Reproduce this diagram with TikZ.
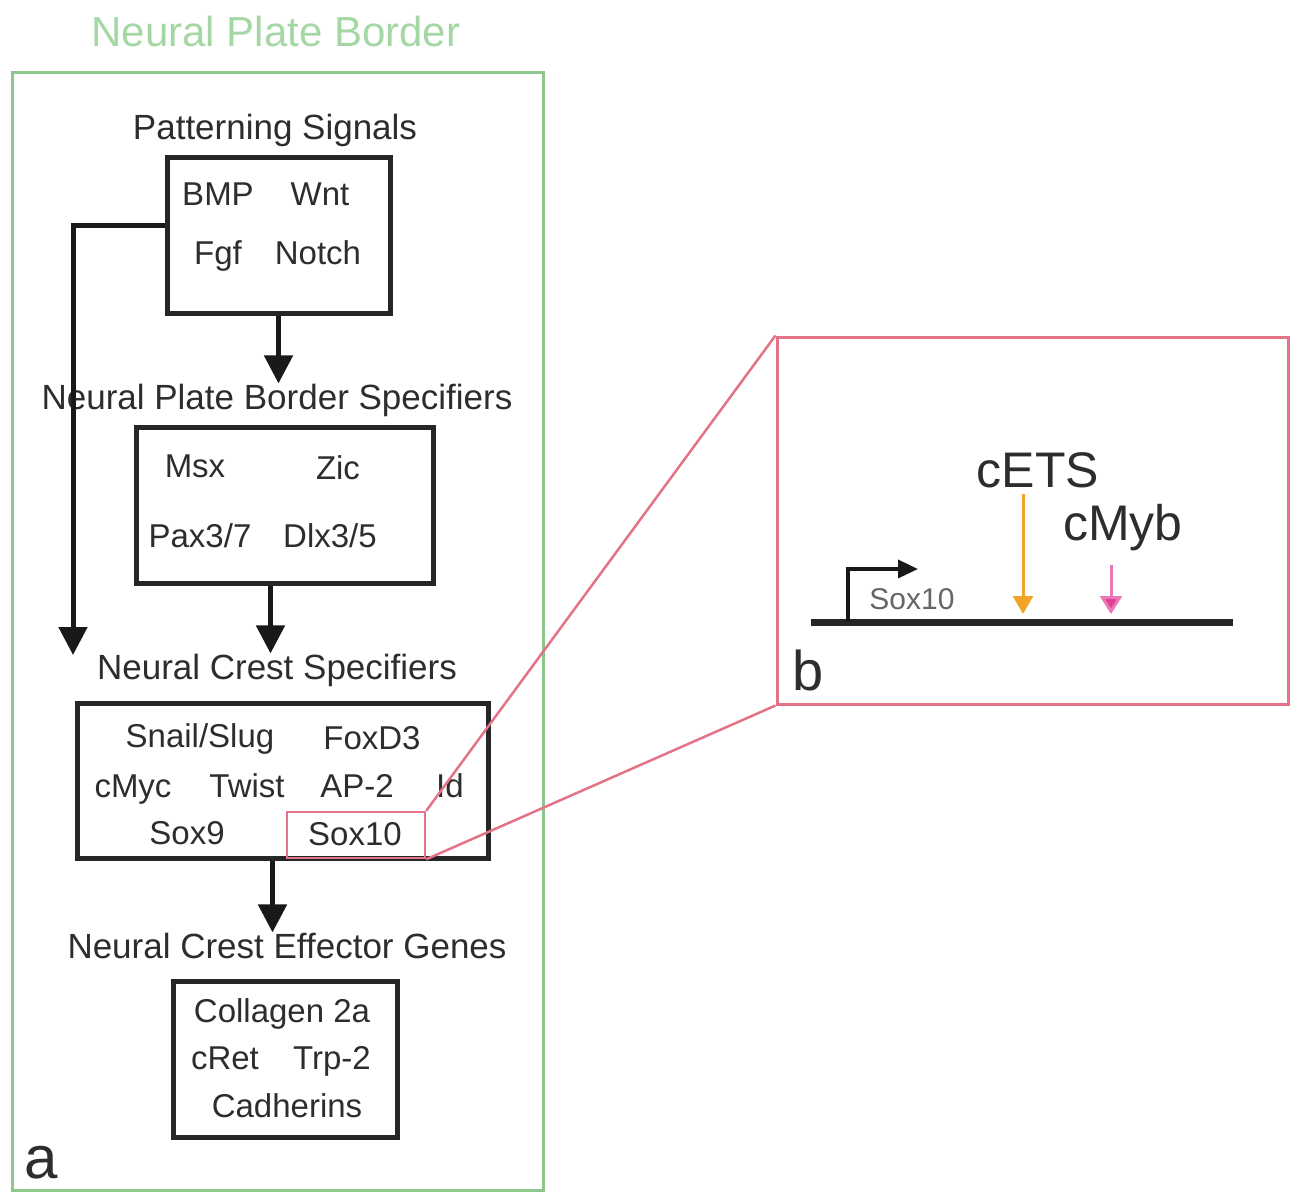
\documentclass[tikz,border=0pt]{standalone}
\usepackage{fontspec}
\setmainfont{Liberation Sans}
\usetikzlibrary{arrows.meta,calc}
\definecolor{txt}{RGB}{45,45,45}
\definecolor{grn}{RGB}{140,200,140}
\definecolor{grnt}{RGB}{165,215,165}
\definecolor{pnk}{RGB}{228,115,135}
\definecolor{orng}{RGB}{240,165,40}
\definecolor{mgnt}{RGB}{225,60,150}
\tikzset{
  blackbox/.style={draw=black!85, line width=5pt, inner sep=0pt},
  lbl/.style={font=\fontsize{35}{40}\selectfont, text=txt, inner sep=0pt, anchor=base},
  itm/.style={font=\fontsize{33}{38}\selectfont, text=txt, inner sep=0pt, anchor=base},
  arr/.style={line width=5pt, draw=black!90, -{Triangle[length=28pt,width=28pt]}},
  pinkline/.style={draw=pnk, line width=2.5pt}
}
\begin{document}
\begin{tikzpicture}[x=1pt,y=-1pt]
\useasboundingbox (0,0) rectangle (1302,1194);
% panel a
\node[draw=grn, line width=3pt, minimum width=531pt, minimum height=1118pt, inner sep=0pt] (npb) at (277.5,631) {};
\node[font=\fontsize{42}{48}\selectfont, text=grnt, inner sep=0pt, anchor=base] (title) at (276,46) {Neural Plate Border};

\node[lbl] (psl) at (275,139) {Patterning Signals};
\node[blackbox, minimum width=223pt, minimum height=156pt] (ps) at (278.5,235) {};
\node[itm] (bmp) at (218,205) {BMP};
\node[itm] (wnt) at (320,205) {Wnt};
\node[itm] (fgf) at (218,264) {Fgf};
\node[itm] (notch) at (318,264) {Notch};

\node[lbl] (npbsl) at (277,409) {Neural Plate Border Specifiers};
\node[blackbox, minimum width=297pt, minimum height=156pt] (b2) at (284.5,505) {};
\node[itm] (msx) at (195,477) {Msx};
\node[itm] (zic) at (338,479) {Zic};
\node[itm] (pax) at (200,547) {Pax3/7};
\node[itm] (dlx) at (330,547) {Dlx3/5};

\node[lbl] (ncsl) at (277,679) {Neural Crest Specifiers};
\node[blackbox, minimum width=411pt, minimum height=155pt] (b3) at (282.5,780.5) {};
\node[itm] (snail) at (200,747) {Snail/Slug};
\node[itm] (foxd3) at (372,749) {FoxD3};
\node[itm] (cmyc) at (133,797) {cMyc};
\node[itm] (twist) at (247,797) {Twist};
\node[itm] (ap2) at (357,797) {AP-2};
\node[itm] (id) at (450,797) {Id};
\node[itm] (sox9) at (187,844) {Sox9};
\node[draw=pnk, line width=2.5pt, minimum width=138pt, minimum height=46pt, inner sep=0pt] (soxbox) at (356,835) {};
\node[itm] (sox10) at (355,845) {Sox10};

\node[lbl] (ncegl) at (287,958) {Neural Crest Effector Genes};
\node[blackbox, minimum width=224pt, minimum height=156pt] (b4) at (285,1059) {};
\node[itm] (col) at (282,1022) {Collagen 2a};
\node[itm] (cret) at (225,1069) {cRet};
\node[itm] (trp) at (332,1069) {Trp-2};
\node[itm] (cad) at (287,1117) {Cadherins};

\node[font=\fontsize{60}{66}\selectfont, text=txt, inner sep=0pt, anchor=base] (la) at (41,1178) {a};

% arrows panel a
\coordinate (lb) at (73,655);
\draw[arr] (ps.south) -- (ps.south |- npbsl.north);
\draw[arr] ([xshift=-14pt]b2.south) -- ([xshift=-14pt]b2.south |- ncsl.north);
\draw[arr] ([xshift=-10pt]b3.south) -- ([xshift=-10pt]b3.south |- ncegl.north);
\draw[line width=5pt, draw=black!90, -{Triangle[length=28pt,width=28pt]}] ([yshift=10pt]ps.west) -| (lb);

% panel b
\node[draw=pnk, line width=3pt, minimum width=511pt, minimum height=367pt, inner sep=0pt] (pb) at (1032.5,520.5) {};
\draw[pinkline] (soxbox.north east) -- (pb.north west);
\draw[pinkline] (soxbox.south east) -- (pb.south west);

\coordinate (dnaL) at (811,622);
\coordinate (dnaR) at (1233,622);
\coordinate (promB) at (848,622);
\coordinate (promE) at (918,569);
\draw[line width=7pt, draw=black!85] (dnaL) -- (dnaR);
\draw[line width=3.5pt, draw=black!90, -{Triangle[length=20pt,width=18pt]}] (promB) |- (promE);
\node[font=\fontsize{30}{34}\selectfont, text=black!60, inner sep=0pt, anchor=base] (soxb) at (912,609) {Sox10};

\node[font=\fontsize{50}{56}\selectfont, text=txt, inner sep=0pt, anchor=base] (cets) at (1038,487) {cETS};
\node[font=\fontsize{50}{56}\selectfont, text=txt, inner sep=0pt, anchor=base] (cmyb) at (1123,540) {cMyb};
\coordinate (ets) at (1023,614);
\coordinate (myb) at (1111,614);
\draw[draw=orng, line width=3pt, -{Triangle[length=18pt,width=20pt]}] ([yshift=-6pt]cets.south -| ets) -- (ets);
\draw[draw=mgnt!70, line width=3pt, -{Triangle[length=18pt,width=22pt, fill=mgnt]}] ([yshift=-14pt]cmyb.south -| myb) -- (myb);

\node[font=\fontsize{56}{62}\selectfont, text=txt, inner sep=0pt, anchor=base] (lb2) at (808,690) {b};
\end{tikzpicture}
\end{document}
